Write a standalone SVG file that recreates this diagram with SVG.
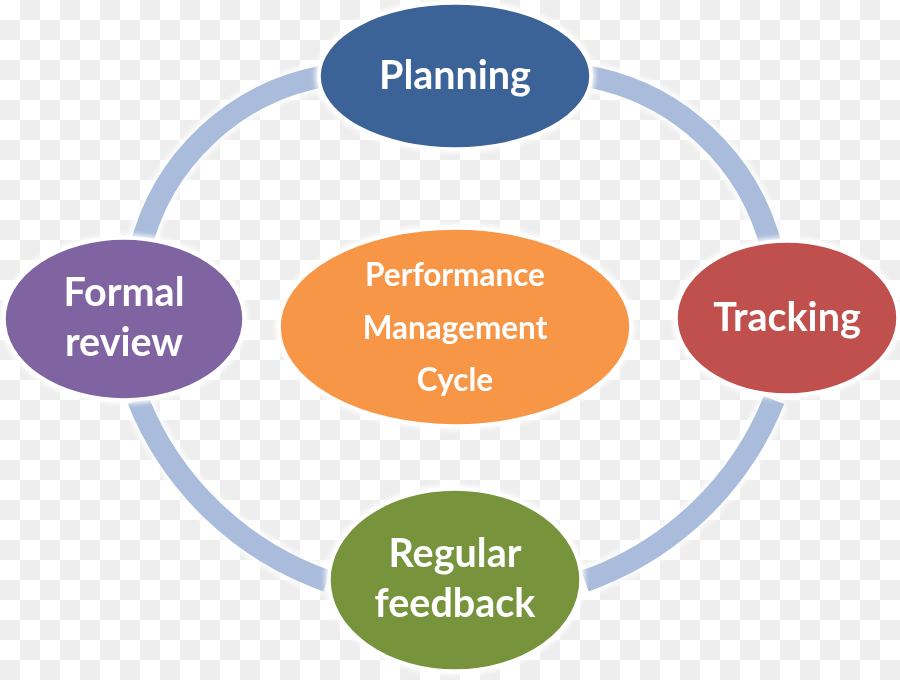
<svg xmlns="http://www.w3.org/2000/svg" width="900" height="680" viewBox="0 0 900 680">
<defs>
<pattern id="checker" x="0" y="0" width="40" height="40" patternUnits="userSpaceOnUse">
<rect width="40" height="40" fill="#ffffff"/>
<rect x="20" y="0" width="20" height="20" fill="#eeeeee"/>
<rect x="0" y="20" width="20" height="20" fill="#eeeeee"/>
</pattern>
<filter id="glow" x="-20%" y="-20%" width="140%" height="140%">
<feGaussianBlur stdDeviation="2.5"/>
</filter>
</defs>
<style>
.arc{fill:none;stroke:#a9bcdb;stroke-width:22;stroke-linecap:butt}
.halo{fill:none;stroke:#ffffff;stroke-width:30;opacity:0.8}
.node{stroke:#ffffff;stroke-width:3.5}
.nhalo{fill:#ffffff;opacity:0.9}
.lbl{font-family:Lato,"Open Sans","Liberation Sans",sans-serif;font-weight:bold;fill:#ffffff;text-anchor:middle}
.big{font-size:39.5px}
.small{font-size:31.5px}
</style>
<rect width="900" height="680" fill="url(#checker)"/>
<g id="connectors">
<g filter="url(#glow)">
<path class="halo" d="M 140 250 A 232 232 0 0 1 325 76"/>
<path class="halo" d="M 585 76 A 232 232 0 0 1 772 250"/>
<path class="halo" d="M 774 400 A 317 317 0 0 1 585 581"/>
<path class="halo" d="M 327 581 A 317 317 0 0 1 138 400"/>
</g>
<path class="arc" d="M 140 250 A 232 232 0 0 1 325 76"/>
<path class="arc" d="M 585 76 A 232 232 0 0 1 772 250"/>
<path class="arc" d="M 774 400 A 317 317 0 0 1 585 581"/>
<path class="arc" d="M 327 581 A 317 317 0 0 1 138 400"/>
</g>
<g id="planning">
<ellipse class="nhalo" cx="455" cy="76" rx="140" ry="77" filter="url(#glow)"/>
<ellipse class="node" cx="455" cy="76" rx="136" ry="73" fill="#3b6398"/>
<text class="lbl big" x="455" y="89">Planning</text>
</g>
<g id="tracking">
<ellipse class="nhalo" cx="787" cy="318" rx="115" ry="81" filter="url(#glow)"/>
<ellipse class="node" cx="787" cy="318" rx="111" ry="77" fill="#c0504d"/>
<text class="lbl big" x="787" y="331">Tracking</text>
</g>
<g id="formal-review">
<ellipse class="nhalo" cx="124" cy="319" rx="124" ry="85" filter="url(#glow)"/>
<ellipse class="node" cx="124" cy="319" rx="120" ry="81" fill="#8064a2"/>
<text class="lbl big" x="124" y="306">Formal</text>
<text class="lbl big" x="124" y="356">review</text>
</g>
<g id="regular-feedback">
<ellipse class="nhalo" cx="455" cy="580" rx="130" ry="95" filter="url(#glow)"/>
<ellipse class="node" cx="455" cy="580" rx="126" ry="91" fill="#77933c"/>
<text class="lbl big" x="455" y="567">Regular</text>
<text class="lbl big" x="455" y="617">feedback</text>
</g>
<g id="center">
<ellipse class="nhalo" cx="455" cy="327" rx="180" ry="103" filter="url(#glow)"/>
<ellipse class="node" cx="455" cy="327" rx="176" ry="99" fill="#f79646"/>
<text class="lbl small" x="455" y="286">Performance</text>
<text class="lbl small" x="455" y="339">Management</text>
<text class="lbl small" x="455" y="391">Cycle</text>
</g>
</svg>
